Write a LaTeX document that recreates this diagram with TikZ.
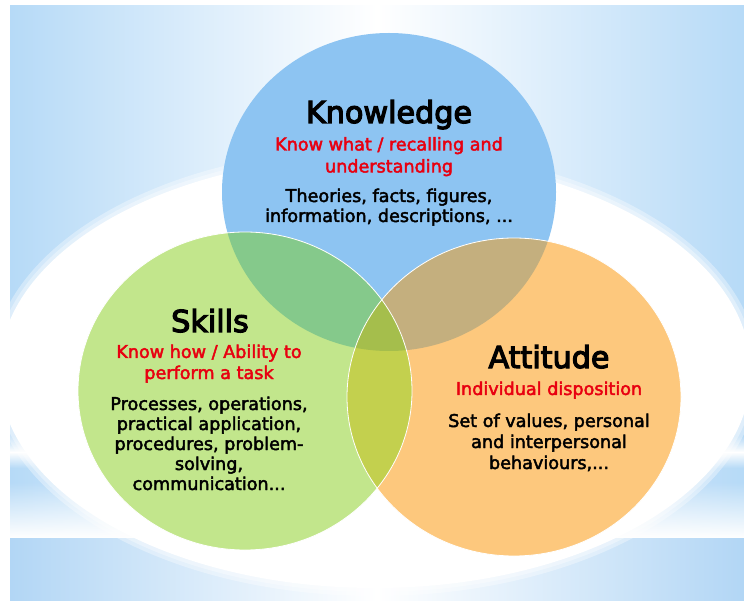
\documentclass[tikz,border=0pt]{standalone}
\usepackage{fontspec}
\setmainfont{DejaVu Sans}[FakeBold=2.5]
\newfontfamily\headfont{DejaVu Sans}[FakeBold=4]
\usetikzlibrary{fadings}

\definecolor{slideblue}{RGB}{182,218,247}
\definecolor{bandblue}{RGB}{178,214,245}
\definecolor{knowblue}{RGB}{141,196,242}
\definecolor{skillgreen}{RGB}{194,230,140}
\definecolor{attorange}{RGB}{253,200,125}
\definecolor{ksgreen}{RGB}{133,201,139}
\definecolor{kabrown}{RGB}{196,175,126}
\definecolor{saolive}{RGB}{195,208,78}
\definecolor{ksaolive}{RGB}{165,190,76}
\definecolor{subred}{RGB}{232,0,16}

\newcommand{\threedots}{...}

\tikzset{
  headtext/.style={anchor=base,font=\headfont\fontsize{30.2}{36}\selectfont},
  subtext/.style={anchor=base,text=subred,font=\fontsize{17.6}{21}\selectfont},
  bodytext/.style={anchor=base,font=\fontsize{17.6}{21}\selectfont},
  ring/.style={x radius=167pt,y radius=159pt}
}

\begin{document}
\begin{tikzpicture}[x=1pt,y=-1pt]
  \useasboundingbox (0,0) rectangle (744,601);
  \fill[white] (0,0) rectangle (744,601);

  % slide background
  \shade[left color=slideblue,right color=slideblue,middle color=white] (10,6) rectangle (744,538);
  \fill[white,path fading=north] (10,482) rectangle (744,538);
  \fill[white,path fading=north] (10,436) rectangle (744,452);
  \fill[white,path fading=south] (10,452) rectangle (744,468);
  \shade[left color=bandblue,right color=bandblue,middle color=white] (10,538) rectangle (744,601);

  % white glow behind the circles
  \coordinate (gc) at (375,372);
  \foreach \g in {8,4} {
    \fill[white,opacity=0.35] (gc) ellipse [x radius={(376+\g)*1pt},y radius={(216+\g)*1pt}];
  }
  \fill[white] (gc) ellipse [x radius=376pt,y radius=216pt];

  % the three circles
  \coordinate (kc) at (389,192);
  \coordinate (sc) at (245,391);
  \coordinate (ac) at (514,397);
  \fill[knowblue] (kc) ellipse [ring];
  \fill[skillgreen] (sc) ellipse [ring];
  \fill[attorange] (ac) ellipse [ring];
  \begin{scope}
    \clip (kc) ellipse [ring];
    \fill[ksgreen] (sc) ellipse [ring];
    \fill[kabrown] (ac) ellipse [ring];
  \end{scope}
  \begin{scope}
    \clip (sc) ellipse [ring];
    \fill[saolive] (ac) ellipse [ring];
    \clip (kc) ellipse [ring];
    \fill[ksaolive] (ac) ellipse [ring];
  \end{scope}
  \draw[white,line width=0.8pt] (sc) ellipse [ring];
  \draw[white,line width=0.8pt] (ac) ellipse [ring];

  % Knowledge
  \node[headtext] (know) at (389,123) {Knowledge};
  \foreach[count=\i,evaluate={128.5+22*\i} as \y] \t in {{Know what / recalling and},{understanding}} {
    \node[subtext] (know-sub\i) at (389,\y) {\t};
  }
  \foreach[count=\i,evaluate={182+20*\i} as \y] \t in {{Theories, facts, figures,},{information, descriptions, \threedots}} {
    \node[bodytext] (know-txt\i) at (389,\y) {\t};
  }

  % Skills
  \node[headtext] (skill) at (210,332) {Skills};
  \foreach[count=\i,evaluate={337+21*\i} as \y] \t in {{Know how / Ability to},{perform a task}} {
    \node[subtext] (skill-sub\i) at (209,\y) {\t};
  }
  \foreach[count=\i,evaluate={390+20*\i} as \y] \t in {{Processes, operations,},{practical application,},{procedures, problem-},{solving,},{communication\threedots}} {
    \node[bodytext] (skill-txt\i) at (209,\y) {\t};
  }

  % Attitude
  \node[headtext] (att) at (549,368) {Attitude};
  \node[subtext] (att-sub) at (549,395) {Individual disposition};
  \foreach[count=\i,evaluate={406+21*\i} as \y] \t in {{Set of values, personal},{and interpersonal},{behaviours,\threedots}} {
    \node[bodytext] (att-txt\i) at (549,\y) {\t};
  }
\end{tikzpicture}
\end{document}
